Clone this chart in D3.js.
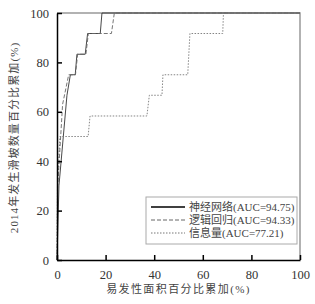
<!DOCTYPE html>
<html>
<head>
<meta charset="utf-8">
<script src="https://cdn.jsdelivr.net/npm/d3@7"></script>
<style>
	body { margin: 0; background: #fff; }
	text { font-family: "Liberation Serif", "Noto Sans CJK SC", serif; }
</style>
</head>
<body>
<script>
// data (x: area %, y: landslide %)
var nnX  = [0, 0.8, 4.1, 5.5, 7.5, 8.2, 11.6, 12.6, 17.8, 18.5, 100];
var nnY  = [0, 30, 66.7, 75, 75, 83.3, 83.3, 91.7, 91.7, 100, 100];
var lrX  = [0, 0.3, 2.3, 4.8, 7.6, 8.5, 11.9, 12.9, 22.4, 23.6, 100];
var lrY  = [0, 30, 63, 75, 75, 83.3, 83.3, 91.7, 91.7, 100, 100];
var ivX  = [0, 0.2, 1.2, 12.8, 13.6, 37, 38, 43.2, 43.6, 53.8, 54.7, 68.2, 68.5, 100];
var ivY  = [0, 30, 50, 50, 58.3, 58.3, 66.7, 66.7, 75, 75, 91.7, 91.7, 100, 100];
var seriesNames = ["神经网络(AUC=94.75)", "逻辑回归(AUC=94.33)", "信息量(AUC=77.21)"];
var xTicks = [0, 20, 40, 60, 80, 100];
var yTicks = [0, 20, 40, 60, 80, 100];

var margin = {top: 13, right: 15, bottom: 44, left: 57};
var outer_width = 315;
var outer_height = 304;
var w = outer_width - margin.left - margin.right;
var h = outer_height - margin.top - margin.bottom;

var svg = d3.select("body")
			.append("svg")
			.attr("width", outer_width)
			.attr("height", outer_height)
			.append("g")
			.attr("transform", "translate(" + margin.left + "," + margin.top + ")");

var xScale = d3.scaleLinear().domain([0, 100]).range([0, w]);
var yScale = d3.scaleLinear().domain([0, 100]).range([h, 0]);

// grey frame top/right
svg.append("path")
	.attr("d", "M0,0H" + w + "V" + h)
	.attr("fill", "none")
	.attr("stroke", "#999")
	.attr("stroke-width", 1.5);

var line = d3.line()
	.x(function(d){ return xScale(d[0]); })
	.y(function(d){ return yScale(d[1]); });

var series = [
	{ xs: nnX, ys: nnY, color: "#333", dash: null, width: 0.9 },
	{ xs: lrX, ys: lrY, color: "#666", dash: "4,2", width: 0.9 },
	{ xs: ivX, ys: ivY, color: "#777", dash: "1.5,1.5", width: 0.9 }
];

series.forEach(function(s){
	var pts = s.xs.map(function(x, i){ return [x, s.ys[i]]; });
	svg.append("path")
		.datum(pts)
		.attr("d", line)
		.attr("fill", "none")
		.attr("stroke", s.color)
		.attr("stroke-width", s.width)
		.attr("stroke-dasharray", s.dash);
});

// axes with inward ticks
var xAxis = d3.axisBottom(xScale).tickValues(xTicks).tickSizeInner(-5).tickSizeOuter(0).tickPadding(10);
var yAxis = d3.axisLeft(yScale).tickValues(yTicks).tickSizeInner(-5).tickSizeOuter(0).tickPadding(8);

var gx = svg.append("g")
	.attr("transform", "translate(0," + h + ")")
	.call(xAxis);
var gy = svg.append("g").call(yAxis);

[gx, gy].forEach(function(g){
	g.select(".domain").attr("stroke", "#000").attr("stroke-width", 1.5);
	g.selectAll(".tick line").attr("stroke", "#000").attr("stroke-width", 1.5);
	g.selectAll(".tick text").attr("fill", "#333").style("font-size", "12.5px")
		.style("font-family", "'Liberation Serif', serif");
});

// axis titles
svg.append("text")
	.attr("x", w / 2)
	.attr("y", h + 33)
	.attr("text-anchor", "middle")
	.style("font-size", "11px")
	.style("letter-spacing", "1.4px")
	.attr("fill", "#444")
	.text("易发性面积百分比累加(%)");

svg.append("text")
	.attr("transform", "translate(" + (-39) + "," + (h / 2 + 1) + ") rotate(-90)")
	.attr("text-anchor", "middle")
	.style("font-size", "11px")
	.style("letter-spacing", "1.1px")
	.attr("fill", "#444")
	.text("2014年发生滑坡数量百分比累加(%)");

// legend
var lg = svg.append("g").attr("transform", "translate(" + (146 - margin.left) + "," + (197 - margin.top) + ")");
lg.append("rect")
	.attr("width", 151).attr("height", 47)
	.attr("fill", "#fff")
	.attr("stroke", "#aaa")
	.attr("stroke-width", 1);

series.forEach(function(s, i){
	var yy = 10 + i * 13;
	lg.append("line")
		.attr("x1", 5).attr("x2", 39)
		.attr("y1", yy).attr("y2", yy)
		.attr("stroke", i == 0 ? "#000" : s.color)
		.attr("stroke-width", i == 0 ? 1.3 : 1)
		.attr("stroke-dasharray", s.dash);
	lg.append("text")
		.attr("x", 43).attr("y", yy + 4)
		.style("font-size", "11px")
		.attr("fill", "#444")
		.text(seriesNames[i]);
});
</script>
</body>
</html>
